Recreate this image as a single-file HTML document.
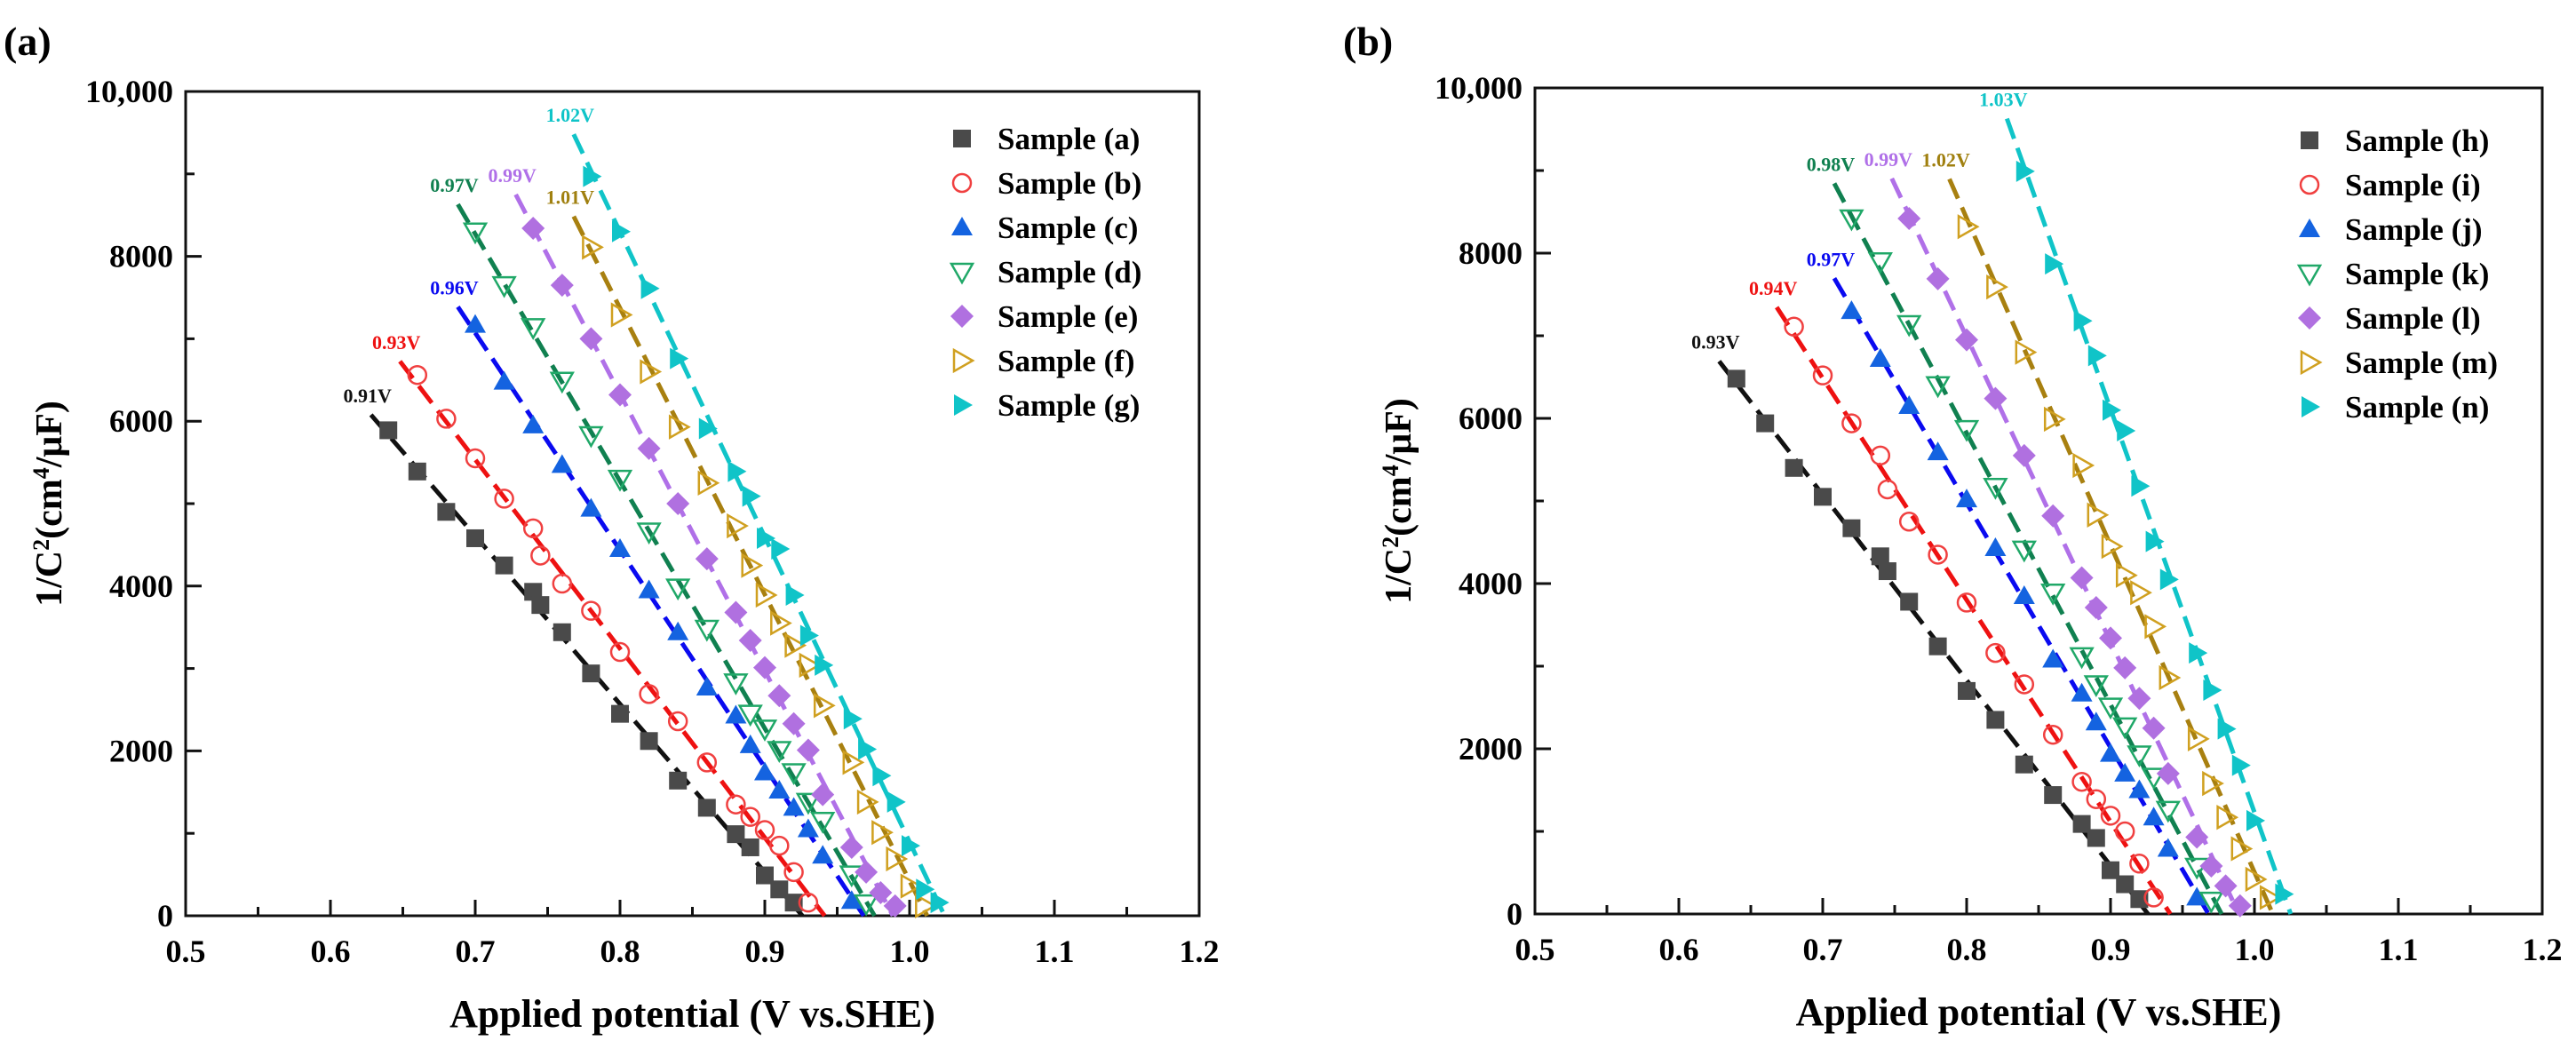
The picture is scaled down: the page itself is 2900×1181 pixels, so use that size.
<!DOCTYPE html>
<html><head><meta charset="utf-8"><style>
html,body{margin:0;padding:0;background:#fff;}
svg{display:block;}
svg text, svg tspan{font-family:"Liberation Serif","DejaVu Serif",serif !important;font-weight:bold;}
</style></head><body>
<svg id="chart" width="2900" height="1181" viewBox="0 0 2900 1181" xmlns="http://www.w3.org/2000/svg" font-family="Liberation Serif, serif"></svg>
<script>
// ---------- Panel (a) data ----------
const aNames = ["Sample (a)","Sample (b)","Sample (c)","Sample (d)","Sample (e)","Sample (f)","Sample (g)"];
const aLabels = ["0.91V","0.93V","0.96V","0.97V","0.99V","1.01V","1.02V"];
const aX0 = [0.64,0.66,0.68,0.70,0.72,0.74,0.745,0.76,0.78,0.80,0.82,0.84,0.86,0.88,0.89,0.90,0.91,0.92];
const aY0 = [5890,5390,4900,4580,4250,3930,3770,3440,2940,2450,2120,1640,1310,990,830,490,320,160];
const aX1 = [0.66,0.68,0.70,0.72,0.74,0.745,0.76,0.78,0.80,0.82,0.84,0.86,0.88,0.89,0.90,0.91,0.92,0.93];
const aY1 = [6560,6030,5550,5060,4700,4370,4030,3700,3200,2690,2360,1860,1350,1200,1040,850,530,160];
const aX2 = [0.70,0.72,0.74,0.76,0.78,0.80,0.82,0.84,0.86,0.88,0.89,0.90,0.91,0.92,0.93,0.94,0.96];
const aY2 = [7170,6480,5950,5470,4940,4450,3950,3440,2770,2430,2070,1740,1520,1310,1050,730,180];
const aX3 = [0.70,0.72,0.74,0.76,0.78,0.80,0.82,0.84,0.86,0.88,0.89,0.90,0.91,0.92,0.93,0.94,0.96,0.97];
const aY3 = [8300,7650,7140,6490,5830,5300,4660,3980,3480,2830,2450,2270,2010,1740,1380,1150,500,150];
const aX4 = [0.74,0.76,0.78,0.80,0.82,0.84,0.86,0.88,0.89,0.90,0.91,0.92,0.93,0.94,0.96,0.97,0.98,0.99];
const aY4 = [8340,7650,7000,6320,5670,5000,4330,3680,3340,3010,2670,2330,2010,1470,830,530,280,120];
const aX5 = [0.78,0.80,0.82,0.84,0.86,0.88,0.89,0.90,0.91,0.92,0.93,0.94,0.96,0.97,0.98,0.99,1.00,1.01];
const aY5 = [8110,7290,6600,5930,5250,4730,4250,3890,3550,3280,3040,2550,1860,1380,1010,690,360,120];
const aX6 = [0.78,0.80,0.82,0.84,0.86,0.88,0.89,0.90,0.91,0.92,0.93,0.94,0.96,0.97,0.98,0.99,1.00,1.01,1.02];
const aY6 = [8970,8300,7610,6760,5910,5390,5090,4580,4450,3890,3400,3040,2390,2020,1700,1380,850,320,160];
// ---------- Panel (b) data ----------
const bNames = ["Sample (h)","Sample (i)","Sample (j)","Sample (k)","Sample (l)","Sample (m)","Sample (n)"];
const bLabels = ["0.93V","0.94V","0.97V","0.98V","0.99V","1.02V","1.03V"];
const bX0 = [0.64,0.66,0.68,0.70,0.72,0.74,0.745,0.76,0.78,0.80,0.82,0.84,0.86,0.88,0.89,0.90,0.91,0.92];
const bY0 = [6480,5940,5400,5050,4670,4330,4150,3780,3240,2700,2350,1810,1440,1090,920,530,360,180];
const bX1 = [0.68,0.70,0.72,0.74,0.745,0.76,0.78,0.80,0.82,0.84,0.86,0.88,0.89,0.90,0.91,0.92,0.93];
const bY1 = [7110,6520,5940,5550,5140,4750,4350,3770,3160,2780,2170,1600,1390,1190,1000,610,200];
const bX2 = [0.72,0.74,0.76,0.78,0.80,0.82,0.84,0.86,0.88,0.89,0.90,0.91,0.92,0.93,0.94,0.96];
const bY2 = [7300,6720,6150,5590,5020,4430,3850,3080,2670,2320,1940,1700,1500,1170,790,200];
const bX3 = [0.72,0.74,0.76,0.78,0.80,0.82,0.84,0.86,0.88,0.89,0.90,0.91,0.92,0.93,0.94,0.96,0.97];
const bY3 = [8420,7900,7140,6400,5870,5170,4410,3890,3120,2780,2510,2270,1930,1660,1260,570,160];
const bX4 = [0.76,0.78,0.80,0.82,0.84,0.86,0.88,0.89,0.90,0.91,0.92,0.93,0.94,0.96,0.97,0.98,0.99];
const bY4 = [8420,7690,6950,6240,5550,4820,4070,3710,3340,2980,2610,2250,1700,930,580,340,100];
const bX5 = [0.80,0.82,0.84,0.86,0.88,0.89,0.90,0.91,0.92,0.93,0.94,0.96,0.97,0.98,0.99,1.00,1.01];
const bY5 = [8320,7590,6800,5990,5430,4830,4450,4100,3890,3480,2860,2120,1580,1170,790,420,200];
const bX6 = [0.84,0.86,0.88,0.89,0.90,0.91,0.92,0.93,0.94,0.96,0.97,0.98,0.99,1.00,1.02];
const bY6 = [8990,7870,7180,6760,6100,5850,5180,4510,4050,3160,2710,2240,1800,1130,240];
// ---------- axes ----------
const xTicks = [0.5,0.6,0.7,0.8,0.9,1.0,1.1,1.2];
const xTickLabels = ["0.5","0.6","0.7","0.8","0.9","1.0","1.1","1.2"];
const yTicks = [0,2000,4000,6000,8000,10000];
const yTickLabels = ["0","2000","4000","6000","8000","10,000"];

const styles = [
 {shape:"square", fill:"#4a4a4a", stroke:"none", line:"#111111", lab:"#111111"},
 {shape:"circle", fill:"none", stroke:"#f04040", line:"#ee1111", lab:"#ee1111"},
 {shape:"up", fill:"#1463e0", stroke:"none", line:"#0a0af0", lab:"#0a0af0"},
 {shape:"down", fill:"none", stroke:"#20a868", line:"#108050", lab:"#108050"},
 {shape:"diamond", fill:"#b070e0", stroke:"none", line:"#b070e8", lab:"#b070e8"},
 {shape:"right", fill:"none", stroke:"#d0a020", line:"#a88010", lab:"#a08010"},
 {shape:"right", fill:"#10c4c8", stroke:"none", line:"#10c4c8", lab:"#10c4c8"}
];

const NS = "http://www.w3.org/2000/svg";
const svg = document.getElementById("chart");
const FF = '"Liberation Serif", serif';
function mk(tag, attrs, parent){
  const e = document.createElementNS(NS, tag);
  for (const k in attrs) e.setAttribute(k, attrs[k]);
  if (tag === "text") { e.setAttribute("font-family", FF); e.setAttribute("font-weight", "bold"); }
  (parent||svg).appendChild(e);
  return e;
}

function marker(g, shape, cx, cy, st, s){
  let e;
  const sw = st.fill==="none" ? 2.5 : 0;
  const common = {fill: st.fill, stroke: st.stroke, "stroke-width": sw};
  if (shape==="square") e = mk("rect", Object.assign({x:cx-s/2,y:cy-s/2,width:s,height:s}, common), g);
  else if (shape==="circle") e = mk("circle", Object.assign({cx:cx,cy:cy,r:s/2}, common), g);
  else if (shape==="up") e = mk("polygon", Object.assign({points:`${cx},${cy-s*0.6} ${cx-s*0.6},${cy+s*0.45} ${cx+s*0.6},${cy+s*0.45}`}, common), g);
  else if (shape==="down") e = mk("polygon", Object.assign({points:`${cx},${cy+s*0.6} ${cx-s*0.6},${cy-s*0.45} ${cx+s*0.6},${cy-s*0.45}`}, common), g);
  else if (shape==="diamond") e = mk("polygon", Object.assign({points:`${cx},${cy-s*0.65} ${cx+s*0.65},${cy} ${cx},${cy+s*0.65} ${cx-s*0.65},${cy}`}, common), g);
  else if (shape==="right") e = mk("polygon", Object.assign({points:`${cx+s*0.6},${cy} ${cx-s*0.45},${cy-s*0.6} ${cx-s*0.45},${cy+s*0.6}`}, common), g);
  return e;
}

function panel(cfg){
  const {L,R,T,B,tag,tagX,tagY,names,labels,xs,ys,legX,legY,id} = cfg;
  const X = v => L + (v-0.5)/0.7*(R-L);
  const Y = v => B - v/10000*(B-T);
  const g = mk("g", {});
  
  
  const t = mk("text", {x:tagX, y:tagY, "font-size":46}, g);
  t.textContent = tag;
  
  
  const fr = mk("rect", {x:L,y:T,width:R-L,height:B-T,fill:"none",stroke:"#111","stroke-width":3}, g);
  
  
  for (let v=0.5; v<=1.2001; v+=0.05){
    const major = Math.abs(v*10 - Math.round(v*10))<1e-6;
    const tk = mk("line",{x1:X(v),x2:X(v),y1:B,y2:B-(major?18:10),stroke:"#111","stroke-width":3},g);
    
    
  }
  xTicks.forEach((v,i)=>{
    const tl = mk("text",{x:X(v),y:B+52,"text-anchor":"middle","font-size":36},g);
    tl.textContent = xTickLabels[i];
    
    
  });
  for (let v=0; v<=10000; v+=1000){
    const major = v%2000===0;
    const tk = mk("line",{x1:L,x2:L+(major?18:10),y1:Y(v),y2:Y(v),stroke:"#111","stroke-width":3},g);
    
    
  }
  yTicks.forEach((v,i)=>{
    const tl = mk("text",{x:L-14,y:Y(v)+12,"text-anchor":"end","font-size":36},g);
    tl.textContent = yTickLabels[i];
    
    
  });
  const xt = mk("text",{x:(L+R)/2,y:B+125,"text-anchor":"middle","font-size":44},g);
  xt.textContent = "Applied potential (V vs.SHE)";
  
  
  const yx = L-140, yy = (T+B)/2;
  const yt = mk("text",{x:yx,y:yy,"text-anchor":"middle","font-size":42,transform:`rotate(-90 ${yx} ${yy})`},g);
  yt.innerHTML = '1/C<tspan dy="-14" font-size="26">2</tspan><tspan dy="14">(cm</tspan><tspan dy="-14" font-size="26">4</tspan><tspan dy="14">/μF)</tspan>';
  
  
  names.forEach((nm,si)=>{
    const st = styles[si];
    const sx = xs[si], sy = ys[si];
    const sg = mk("g",{},g);
    
    
    const n = sx.length;
    let mx=0,my=0; for(let i=0;i<n;i++){mx+=sx[i];my+=sy[i];} mx/=n; my/=n;
    let num=0,den=0; for(let i=0;i<n;i++){num+=(sx[i]-mx)*(sy[i]-my);den+=(sx[i]-mx)**2;}
    const k = num/den, b0 = my - k*mx;
    const xStart = sx[0]-0.012, xEnd = -b0/k;
    const ln = mk("line",{x1:X(xStart),y1:Y(k*xStart+b0),x2:X(xEnd),y2:Y(0),stroke:st.line,"stroke-width":5,"stroke-dasharray":"24 11"},sg);
    
    
    sx.forEach((xv,i)=>{
      const m = marker(sg, st.shape, X(xv), Y(sy[i]), st, 20);
      
      
    });
    const lbl = mk("text",{x:X(xStart)-4,y:Y(k*xStart+b0)-14,"text-anchor":"middle","font-size":22,fill:st.lab},sg);
    lbl.textContent = labels[si];
    
    
    const ly = legY + si*50;
    const lg = mk("g",{},g);
    
    
    marker(lg, st.shape, legX, ly, st, 20);
    const lt = mk("text",{x:legX+40,y:ly+12,"font-size":35},lg);
    lt.textContent = nm;
  });
}

panel({id:"a",L:209,R:1350,T:103,B:1031,tag:"(a)",tagX:4,tagY:62,names:aNames,labels:aLabels,
  xs:[aX0,aX1,aX2,aX3,aX4,aX5,aX6], ys:[aY0,aY1,aY2,aY3,aY4,aY5,aY6], legX:1083, legY:156});
panel({id:"b",L:1728,R:2862,T:99,B:1029,tag:"(b)",tagX:1512,tagY:62,names:bNames,labels:bLabels,
  xs:[bX0,bX1,bX2,bX3,bX4,bX5,bX6], ys:[bY0,bY1,bY2,bY3,bY4,bY5,bY6], legX:2600, legY:158});
</script>
</body></html>
